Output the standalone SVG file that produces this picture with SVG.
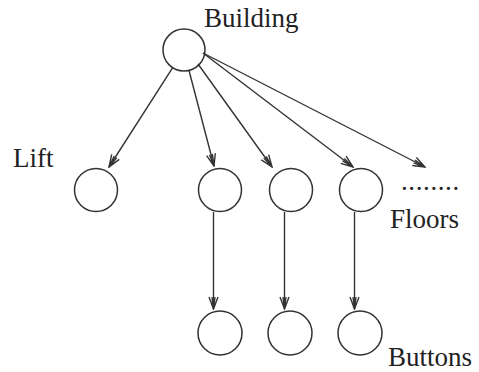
<svg xmlns="http://www.w3.org/2000/svg" width="479" height="372" viewBox="0 0 479 372">
  <style>
    .node { fill: none; stroke: #333; stroke-width: 1.5; }
    .edge { fill: none; stroke: #333; stroke-width: 1.4; marker-end: url(#arrow); }
    .label { font-family: "Liberation Serif", "Times New Roman", serif; font-size: 27px; fill: #222; }
  </style>
  <defs>
    <marker id="arrow" viewBox="-13 -6 14 12" refX="0" refY="0" markerWidth="14" markerHeight="12" markerUnits="userSpaceOnUse" orient="auto">
      <path d="M-12,-4.5 L0,0 L-12,4.5 M-12,-1.5 L0,0 L-12,1.5" fill="none" stroke="#333" stroke-width="1.4"/>
    </marker>
  </defs>

  <g id="connectors">
    <line class="edge" x1="172.7" y1="67.7" x2="109" y2="167"/>
    <line class="edge" x1="189" y1="70.5" x2="214" y2="166"/>
    <line class="edge" x1="198" y1="64" x2="272" y2="167"/>
    <line class="edge" x1="203" y1="53" x2="353" y2="167"/>
    <line class="edge" x1="203" y1="53" x2="425" y2="167"/>
    <line class="edge" x1="213.5" y1="212" x2="213.5" y2="309"/>
    <line class="edge" x1="284.5" y1="212" x2="284.5" y2="309"/>
    <line class="edge" x1="354.5" y1="212" x2="354.5" y2="309"/>
  </g>

  <g id="building">
    <circle class="node" cx="184" cy="50" r="21"/>
    <text class="label" x="204" y="27">Building</text>
  </g>

  <g id="lift">
    <circle class="node" cx="96" cy="190" r="21.5"/>
    <text class="label" x="13" y="167">Lift</text>
  </g>

  <g id="floor-1">
    <circle class="node" cx="220" cy="190" r="21.5"/>
  </g>
  <g id="floor-2">
    <circle class="node" cx="291" cy="190" r="21.5"/>
  </g>
  <g id="floor-3">
    <circle class="node" cx="361" cy="190" r="21.5"/>
  </g>
  <g id="floors-label">
    <text class="label" x="401" y="190" style="letter-spacing:0.6px">........</text>
    <text class="label" x="390" y="228">Floors</text>
  </g>

  <g id="button-1">
    <circle class="node" cx="220" cy="333" r="22"/>
  </g>
  <g id="button-2">
    <circle class="node" cx="290" cy="333" r="22"/>
  </g>
  <g id="button-3">
    <circle class="node" cx="360" cy="333" r="22"/>
  </g>
  <g id="buttons-label">
    <text class="label" x="388" y="366">Buttons</text>
  </g>
</svg>
